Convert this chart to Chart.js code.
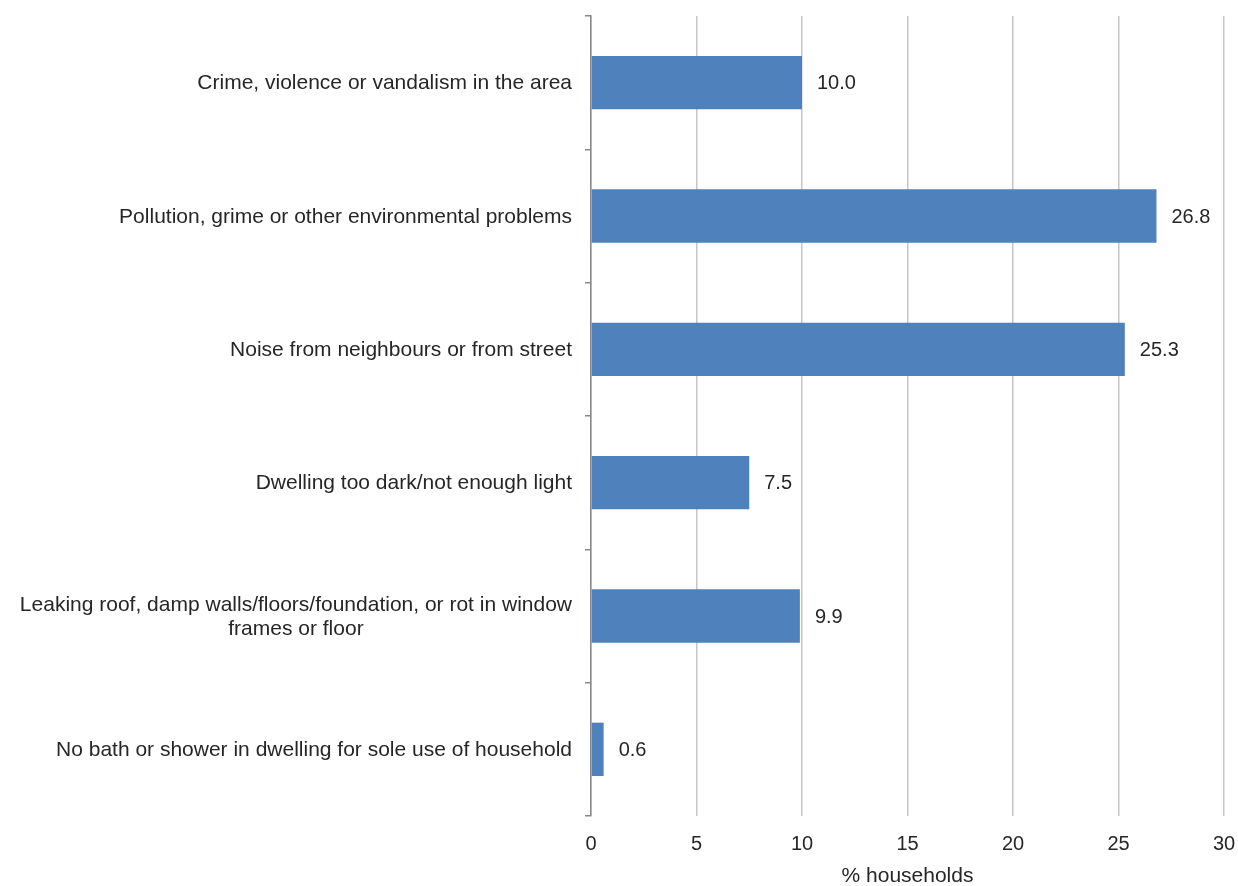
<!DOCTYPE html>
<html>
<head>
<meta charset="utf-8">
<script src="https://cdn.jsdelivr.net/npm/chart.js@4/dist/chart.umd.min.js"></script>
<style>
  html, body { margin: 0; padding: 0; background: #fff; }
  #wrap { width: 1238px; height: 886px; position: relative; }
</style>
</head>
<body>
<div id="wrap"><canvas id="c"></canvas></div>
<script>
const categories = [
  "Crime, violence or vandalism in the area",
  "Pollution, grime or other environmental problems",
  "Noise from neighbours or from street",
  "Dwelling too dark/not enough light",
  ["Leaking roof, damp walls/floors/foundation, or rot in window", "frames or floor"],
  "No bath or shower in dwelling for sole use of household"
];
const values = [10.0, 26.8, 25.3, 7.5, 9.9, 0.6];
const xTicks = [0, 5, 10, 15, 20, 25, 30];
const xTitle = "% households";

const FONT = "'Liberation Sans', Arial, sans-serif";
const TEXT = "#262626";

const yLabelPlugin = {
  id: 'yLabels',
  afterDraw(chart) {
    const ctx = chart.ctx;
    const y = chart.scales.y;
    const right = y.right - 6 - 13;
    ctx.save();
    ctx.font = "21px " + FONT;
    ctx.fillStyle = TEXT;
    ctx.textBaseline = 'middle';
    ctx.textAlign = 'center';
    const lh = 24;
    categories.forEach((lab, i) => {
      const lines = Array.isArray(lab) ? lab : [lab];
      const w = Math.max(...lines.map(l => ctx.measureText(l).width));
      const cx = right - w / 2;
      const cy = y.getPixelForValue(i) + 1;
      lines.forEach((l, j) => {
        ctx.fillText(l, cx, cy + (j - (lines.length - 1) / 2) * lh);
      });
    });
    ctx.restore();
  }
};

const dataLabelPlugin = {
  id: 'dataLabels',
  afterDatasetsDraw(chart) {
    const ctx = chart.ctx;
    const meta = chart.getDatasetMeta(0);
    ctx.save();
    ctx.font = "20px " + FONT;
    ctx.fillStyle = TEXT;
    ctx.textBaseline = 'middle';
    ctx.textAlign = 'left';
    meta.data.forEach((bar, i) => {
      ctx.fillText(values[i].toFixed(1), bar.x + 15, bar.y + 1);
    });
    ctx.restore();
  }
};

new Chart(document.getElementById('c'), {
  type: 'bar',
  data: {
    labels: categories,
    datasets: [{
      data: values,
      backgroundColor: '#4F81BD',
      borderWidth: 0,
      barPercentage: 0.4,
      categoryPercentage: 1.0
    }]
  },
  options: {
    indexAxis: 'y',
    responsive: true,
    maintainAspectRatio: false,
    animation: false,
    layout: { padding: { left: 10, top: 16, right: 14, bottom: 0 } },
    plugins: {
      legend: { display: false },
      tooltip: { enabled: false }
    },
    scales: {
      x: {
        min: 0,
        max: 30,
        afterBuildTicks(scale) { scale.ticks = xTicks.map(v => ({ value: v })); },
        afterFit(scale) { scale.height = 70; scale.paddingLeft = 0; scale.paddingRight = 0; },
        grid: { color: '#c6c6c6', lineWidth: 1.5, drawTicks: false },
        border: { display: false },
        ticks: { color: TEXT, font: { family: FONT, size: 20 }, padding: 16 },
        title: {
          display: true,
          text: xTitle,
          color: TEXT,
          font: { family: FONT, size: 21, lineHeight: 0.9 },
          padding: { top: 0, bottom: 0 }
        }
      },
      y: {
        afterFit(scale) { scale.width = 581; },
        grid: {
          offset: true,
          drawOnChartArea: false,
          drawTicks: true,
          tickLength: 6,
          color: '#888888',
          lineWidth: 1.5
        },
        border: { display: true, color: '#888888', width: 1.5 },
        ticks: { display: false }
      }
    }
  },
  plugins: [yLabelPlugin, dataLabelPlugin]
});
</script>
</body>
</html>
